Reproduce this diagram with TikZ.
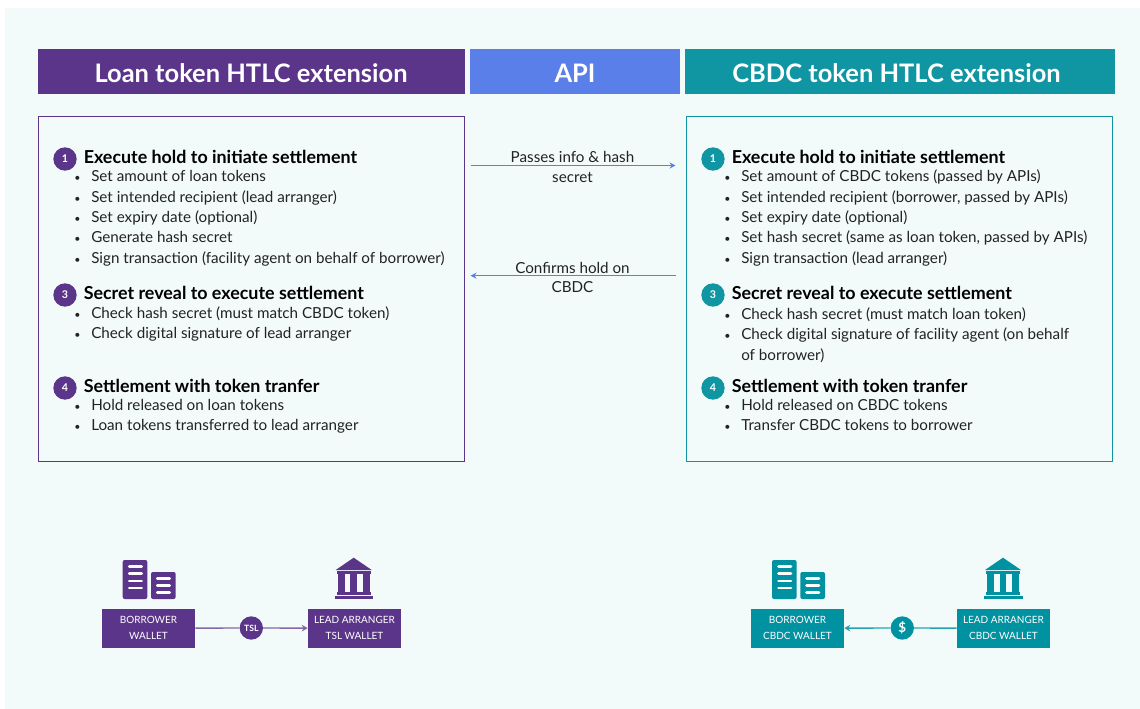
\documentclass[tikz,border=0pt]{standalone}
\usepackage{fontspec}
\setmainfont{Lato}
\usetikzlibrary{arrows.meta,positioning,calc}
\definecolor{loanpurple}{HTML}{5B3589}
\definecolor{apiblue}{HTML}{5A7FE8}
\definecolor{cbdcteal}{HTML}{1095A3}
\definecolor{walletteal}{HTML}{0092A0}
\definecolor{panelbg}{HTML}{F2FBFA}
\definecolor{bodytext}{HTML}{222222}
\newcommand{\itembul}{\llap{{\fontsize{8}{8}\selectfont\textbullet}\hspace{8pt}}}
\tikzset{
    pics/walleticon/.style={code={
        \fill[#1, rounded corners=1.5] (0,0) rectangle (24.6,39);
        \fill[#1, rounded corners=1.5] (28.3,12) rectangle (53,39);
        \draw[white, line width=2pt, line cap=round] (6.5,6.3) -- (19,6.3) (6.5,13.7) -- (19,13.7) (6.5,21) -- (19,21) (6.5,28) -- (19,28);
        \draw[white, line width=2pt, line cap=round] (34.5,18.3) -- (47,18.3) (34.5,25.3) -- (47,25.3) (34.5,32.3) -- (47,32.3);
    }},
    pics/bankicon/.style={code={
        \fill[#1] (0,0) -- (18,12.3) -- (-18,12.3) -- cycle;
        \fill[#1] (-17,13.6) rectangle (17,16);
        \fill[#1] (-15.7,16) rectangle (-9,34.6);
        \fill[#1] (-3.3,16) rectangle (3.3,34.6);
        \fill[#1] (9.3,16) rectangle (16,34.6);
        \fill[#1] (-17,34.6) rectangle (17,37.3);
        \fill[#1] (-19,38.3) rectangle (19.5,41.3);
    }}
}
\begin{document}
\begin{tikzpicture}[
        x=0.75pt, y=-0.75pt,
        header/.style={rectangle, text=white, minimum height=33.75pt, inner sep=0pt, font=\fontsize{19.1}{22}\bfseries},
        headtext/.style={inner sep=0pt, text=white, font=\fontsize{19.1}{22}\bfseries},
        panelbox/.style={rectangle, line width=0.75pt, fill=panelbg, inner sep=0pt},
        stephead/.style={anchor=base west, inner sep=0pt, text=black, font=\fontsize{13.4}{15}\bfseries},
        bullettext/.style={anchor=base west, inner sep=0pt, text=bodytext, font=\fontsize{11.4}{13}\selectfont},
        stepnum/.style={circle, minimum size=17.5pt, inner sep=0pt, text=white, font=\fontsize{8}{10}\bfseries},
        apilabel/.style={inner sep=0pt, text=bodytext, font=\fontsize{11.4}{13}\selectfont},
        walletbox/.style={rectangle, minimum width=69.75pt, minimum height=29pt, inner sep=0pt, align=center, text=white, font=\fontsize{7.5}{12}\selectfont},
        tokennode/.style={circle, minimum size=17.5pt, inner sep=0pt, text=white},
        apiarrow/.style={-{Stealth[length=4.5pt,width=4.5pt]}, apiblue, line width=0.8pt},
    ]
        % Background
        \useasboundingbox (0,0) rectangle (1140,709);
        \fill[panelbg] (4.5,8) rectangle (1140,709);

        % Headers
        \node[header, fill=loanpurple, minimum width=320.25pt] (loanhead) at (251.5,71.5) {};
        \node[header, fill=apiblue, minimum width=157.5pt] (apihead) at (575,71.5) {};
        \node[header, fill=cbdcteal, minimum width=322.5pt] (cbdchead) at (900,71.5) {};
        \node[headtext] (loantitle) at (251,73) {Loan token HTLC extension};
        \node[headtext] (apititle) at (575,73) {API};
        \node[headtext] (cbdctitle) at (896.5,73) {CBDC token HTLC extension};

        % Boxes
        \node[panelbox, draw=loanpurple, minimum width=319.5pt, minimum height=258.75pt] (loanbox) at (251.5,289.5) {};
        \node[panelbox, draw=cbdcteal, minimum width=319.5pt, minimum height=258.75pt] (cbdcbox) at (899,289.5) {};

        % Loan token steps
        \node[stepnum, fill=loanpurple] (loannum1) at (65,159) {1};
        \node[stephead] (loanhead1) at (83.5,163.5) {Execute hold to initiate settlement};
        \node[bullettext] (loanitem1) at (91,181.5) {\itembul Set amount of loan tokens};
        \node[bullettext] (loanitem2) at (91,202.5) {\itembul Set intended recipient (lead arranger)};
        \node[bullettext] (loanitem3) at (91,222.5) {\itembul Set expiry date (optional)};
        \node[bullettext] (loanitem4) at (91,242.5) {\itembul Generate hash secret};
        \node[bullettext] (loanitem5) at (91,263.5) {\itembul Sign transaction (facility agent on behalf of borrower)};

        \node[stepnum, fill=loanpurple] (loannum3) at (65,295) {3};
        \node[stephead] (loanhead3) at (83.5,299.5) {Secret reveal to execute settlement};
        \node[bullettext] (loanitem6) at (91,318.5) {\itembul Check hash secret (must match CBDC token)};
        \node[bullettext] (loanitem7) at (91,338.5) {\itembul Check digital signature of lead arranger};

        \node[stepnum, fill=loanpurple] (loannum4) at (65,388) {4};
        \node[stephead] (loanhead4) at (83.5,392.5) {Settlement with token tranfer};
        \node[bullettext] (loanitem8) at (91,410.5) {\itembul Hold released on loan tokens};
        \node[bullettext] (loanitem9) at (91,430.5) {\itembul Loan tokens transferred to lead arranger};

        % CBDC token steps
        \node[stepnum, fill=cbdcteal] (cbdcnum1) at (713,159) {1};
        \node[stephead] (cbdchead1) at (731.5,163.5) {Execute hold to initiate settlement};
        \node[bullettext] (cbdcitem1) at (741,181.5) {\itembul Set amount of CBDC tokens (passed by APIs)};
        \node[bullettext] (cbdcitem2) at (741,202.5) {\itembul Set intended recipient (borrower, passed by APIs)};
        \node[bullettext] (cbdcitem3) at (741,222.5) {\itembul Set expiry date (optional)};
        \node[bullettext] (cbdcitem4) at (741,242.5) {\itembul Set hash secret (same as loan token, passed by APIs)};
        \node[bullettext] (cbdcitem5) at (741,263.5) {\itembul Sign transaction (lead arranger)};

        \node[stepnum, fill=cbdcteal] (cbdcnum3) at (713,295) {3};
        \node[stephead] (cbdchead3) at (731.5,299.5) {Secret reveal to execute settlement};
        \node[bullettext] (cbdcitem6) at (741,319.5) {\itembul Check hash secret (must match loan token)};
        \node[bullettext] (cbdcitem7) at (741,339.5) {\itembul Check digital signature of facility agent (on behalf};
        \node[bullettext] (cbdcitem7b) at (741,360.5) {of borrower)};

        \node[stepnum, fill=cbdcteal] (cbdcnum4) at (713,388) {4};
        \node[stephead] (cbdchead4) at (731.5,392.5) {Settlement with token tranfer};
        \node[bullettext] (cbdcitem8) at (741,410.5) {\itembul Hold released on CBDC tokens};
        \node[bullettext] (cbdcitem9) at (741,430.5) {\itembul Transfer CBDC tokens to borrower};

        % API arrows
        \coordinate (passstart) at (470.5,165.5);
        \coordinate (passend) at (675.5,165.5);
        \coordinate (confirmstart) at (675.5,275.7);
        \coordinate (confirmend) at (470.5,275.7);
        \draw[apiarrow] (passstart) -- (passend);
        \draw[apiarrow] (confirmstart) -- (confirmend);
        \node[apilabel] (passlabel1) at (572.5,156.5) {Passes info \& hash};
        \node[apilabel] (passlabel2) at (572.5,177.5) {secret};
        \node[apilabel] (confirmlabel1) at (572.5,267.5) {Confirms hold on};
        \node[apilabel] (confirmlabel2) at (572.5,287.5) {CBDC};

        % Wallets left
        \pic at (122.7,560) {walleticon=loanpurple};
        \pic at (353.7,557.7) {bankicon=loanpurple};
        \node[walletbox, fill=loanpurple] (borrowerloan) at (148.5,628.3) {BORROWER\\WALLET};
        \node[walletbox, fill=loanpurple] (lenderloan) at (354.5,628.3) {LEAD ARRANGER\\TSL WALLET};
        \node[tokennode, fill=loanpurple, font=\fontsize{6.5}{8}\bfseries] (tsltoken) at (251.3,628) {TSL};
        \draw[loanpurple!75, line width=1pt] (borrowerloan) -- (tsltoken);
        \draw[-{Stealth[length=4.5pt,width=5pt]}, loanpurple!75, line width=1pt] (tsltoken) -- (lenderloan);

        % Wallets right
        \pic at (772,560) {walleticon=walletteal};
        \pic at (1003,557.7) {bankicon=walletteal};
        \node[walletbox, fill=walletteal] (borrowercbdc) at (797.5,628.3) {BORROWER\\CBDC WALLET};
        \node[walletbox, fill=walletteal] (lendercbdc) at (1003.5,628.3) {LEAD ARRANGER\\CBDC WALLET};
        \node[tokennode, fill=walletteal, font=\fontsize{10}{12}\bfseries] (dollartoken) at (902.3,628) {\$};
        \draw[walletteal!85, line width=1pt] (lendercbdc) -- (dollartoken);
        \draw[-{Stealth[length=4.5pt,width=5pt]}, walletteal!85, line width=1pt] (dollartoken) -- (borrowercbdc);
    \end{tikzpicture}
\end{document}
